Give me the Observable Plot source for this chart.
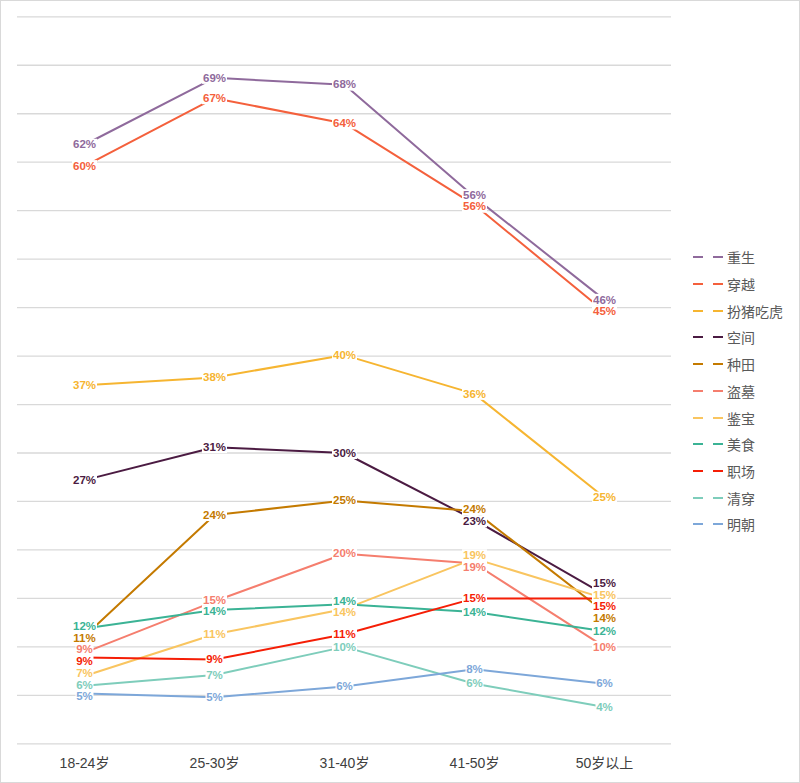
<!DOCTYPE html>
<html>
<head>
<meta charset="utf-8">
<script src="https://cdn.jsdelivr.net/npm/d3@7"></script>
<script src="https://cdn.jsdelivr.net/npm/@observablehq/plot@0.6"></script>
<style>
  html, body { margin: 0; padding: 0; background: #fff; }
  #wrap { position: relative; width: 800px; height: 783px; overflow: hidden; }
  #frame { position: absolute; left: 0; top: 0; width: 800px; height: 783px; box-sizing: border-box; border: 1px solid #d9d9d9; pointer-events: none; }
  #legend { position: absolute; left: 0; top: 0; font-family: "Noto Sans CJK SC", sans-serif; font-size: 14px; color: #595959; }
  .item { position: absolute; display: flex; align-items: center; white-space: nowrap; }
  .item svg { display: block; }
</style>
</head>
<body>
<div id="wrap"><div id="chart"></div><div id="legend"></div><div id="frame"></div></div>
<script>
const ages = ["18-24岁", "25-30岁", "31-40岁", "41-50岁", "50岁以上"];
const seriesNames = ["重生", "穿越", "扮猪吃虎", "空间", "种田", "盗墓", "鉴宝", "美食", "职场", "清穿", "明朝"];
const seriesColors = ["#8f6a9c", "#f4603c", "#f6b531", "#4b1b42", "#c47a00", "#f57e6e", "#f9c560", "#3bb395", "#f51e06", "#7ecdbb", "#7da7d9"];

const chongsheng = [61.8, 68.7, 68.0, 56.4, 45.8];
const chuanyue   = [59.6, 66.6, 64.0, 55.6, 44.6];
const banzhu     = [37.0, 37.8, 40.1, 36.1, 25.4];
const kongjian   = [27.2, 30.6, 30.0, 23.1, 15.4];
const zhongtian  = [11.1, 23.6, 25.1, 24.0, 13.6];
const daomu      = [9.4, 14.7, 19.6, 18.6, 10.0];
const jianbao    = [7.0, 11.3, 13.9, 19.1, 15.0];
const meishi     = [11.9, 13.8, 14.4, 13.6, 11.6];
const zhichang   = [8.9, 8.7, 11.3, 15.0, 15.0];
const qingchuan  = [6.0, 7.1, 10.0, 6.2, 3.8];
const mingchao   = [5.2, 4.8, 5.9, 7.7, 6.2];

const seriesValues = [chongsheng, chuanyue, banzhu, kongjian, zhongtian, daomu, jianbao, meishi, zhichang, qingchuan, mingchao];
const yTicks = d3.range(0, 80, 5);

const rows = [];
seriesNames.forEach((s, i) => seriesValues[i].forEach((v, j) => rows.push({series: s, age: ages[j], value: v, label: Math.round(v) + "%"})));

// simple collision avoidance for data labels within each age column (in value units)
const minGap = 1.2;
ages.forEach(age => {
  const col = rows.filter(r => r.age === age).sort((a, b) => b.value - a.value);
  col.forEach(r => r.ly = r.value);
  for (let k = 0; k < 200; k++) {
    for (let i = 0; i < col.length - 1; i++) {
      const a = col[i], b = col[i + 1];
      const gap = a.ly - b.ly;
      if (gap < minGap) { const d = (minGap - gap) / 2; a.ly += d; b.ly -= d; }
    }
  }
});

function boxSymbol(w, h) {
  return { draw(ctx) { ctx.rect(-w / 2, -h / 2, w, h); } };
}
const box2 = boxSymbol(25, 12);
const box1 = boxSymbol(18, 12);

const labelMarks = [];
seriesNames.forEach((s, i) => {
  const d = rows.filter(r => r.series === s);
  labelMarks.push(
    Plot.dot(d.filter(r => r.label.length > 2), {x: "age", y: "ly", symbol: box2, fill: "white", stroke: null}),
    Plot.dot(d.filter(r => r.label.length <= 2), {x: "age", y: "ly", symbol: box1, fill: "white", stroke: null}),
    Plot.text(d, {x: "age", y: "ly", text: "label", fill: seriesColors[i], fontSize: 11.5, fontWeight: "bold", textAnchor: "middle", lineAnchor: "middle"})
  );
});

const chart = Plot.plot({
  width: 800,
  height: 783,
  marginLeft: 17,
  marginRight: 129,
  marginTop: 16.3,
  marginBottom: 39.7,
  style: {fontFamily: "'Liberation Sans', 'Noto Sans CJK SC', sans-serif", background: "white"},
  x: {type: "point", domain: ages, padding: 0.5, align: 0.5, axis: null},
  y: {domain: [0, 75], axis: null},
  color: {domain: seriesNames, range: seriesColors},
  marks: [
    Plot.ruleY(yTicks, {stroke: "#d9d9d9", strokeWidth: 1.3}),
    Plot.axisX({domain: ages, label: null, tickSize: 0, tickPadding: 14, fontSize: 14, fill: "#404040", fontFamily: "'Liberation Sans', 'Noto Sans CJK SC', sans-serif"}),
    Plot.line(rows, {x: "age", y: "value", z: "series", stroke: "series", strokeWidth: 2}),
    ...labelMarks
  ]
});
document.getElementById("chart").appendChild(chart);

const legend = document.getElementById("legend");
seriesNames.forEach((s, i) => {
  const it = document.createElement("div");
  it.className = "item";
  it.style.left = "693px";
  it.style.top = (257.3 + i * 26.7 - 10) + "px";
  it.style.height = "20px";
  it.innerHTML = `<svg width="34" height="20"><line x1="0" x2="30" y1="10" y2="10" stroke="${seriesColors[i]}" stroke-width="2" stroke-dasharray="10 10"/></svg><span>${s}</span>`;
  legend.appendChild(it);
});
</script>
</body>
</html>
